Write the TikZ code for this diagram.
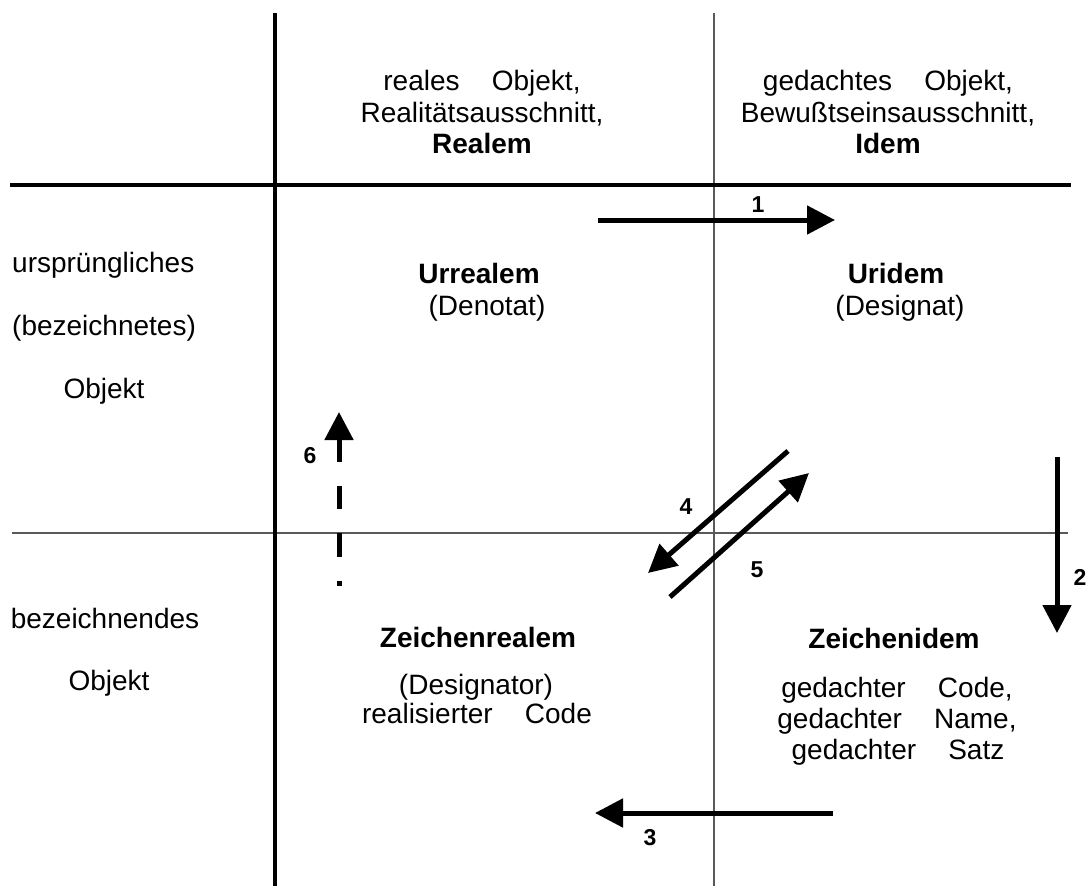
\documentclass[tikz,border=0pt]{standalone}
\usepackage{fontspec}
\setmainfont{Liberation Sans}
\usetikzlibrary{arrows.meta}
\newcommand\wgap{\hspace{1.15em}}
\begin{document}
\begin{tikzpicture}[x=1pt,y=-1pt,
  txt/.style={font=\fontsize{28}{31}\selectfont, inner sep=0pt, anchor=base},
  ttl/.style={txt, font=\fontsize{28}{31}\selectfont\bfseries},
  num/.style={font=\fontsize{23}{26}\selectfont\bfseries, inner sep=0pt},
  thickrule/.style={line width=4.5pt},
  thinrule/.style={line width=1.1pt, black!65},
  arr/.style={line width=5pt, -{Triangle[length=28pt,width=28pt]}},
]
\useasboundingbox (0,0) rectangle (1089,886);

% grid of the table
\coordinate (vT) at (275,13);   \coordinate (vB) at (275,886);
\coordinate (wT) at (714,13);   \coordinate (wB) at (714,886);
\coordinate (hL) at (10,185);   \coordinate (hR) at (1071,185);
\coordinate (gL) at (12,533);   \coordinate (gR) at (1068,533);
\draw[thinrule] (wT) -- (wB);
\draw[thinrule] (gL) -- (gR);
\draw[thickrule] (vT) -- (vB);
\draw[thickrule] (hL) -- (hR);

% column heads
\node[txt] (h1a) at (482,90)  {reales\wgap Objekt,};
\node[txt] (h1b) at (482,122) {Realitätsausschnitt,};
\node[ttl] (h1c) at (482,153) {Realem};
\node[txt] (h2a) at (888,90)  {gedachtes\wgap Objekt,};
\node[txt] (h2b) at (888,122) {Bewußtseinsausschnitt,};
\node[ttl] (h2c) at (888,153) {Idem};

% row heads
\node[txt, anchor=base west] (r1a) at (12,272) {ursprüngliches};
\node[txt, anchor=base west] (r1b) at (12,335) {(bezeichnetes)};
\node[txt] (r1c) at (104,398) {Objekt};
\node[txt] (r2a) at (105,628) {bezeichnendes};
\node[txt] (r2b) at (109,690) {Objekt};

% cells
\node[ttl] (c11a) at (479,283) {Urrealem};
\node[txt] (c11b) at (487,315) {(Denotat)};
\node[ttl] (c12a) at (896,283) {Uridem};
\node[txt] (c12b) at (900,315) {(Designat)};
\node[ttl] (c21a) at (478,647) {Zeichenrealem};
\node[txt] (c21b) at (476,694) {(Designator)};
\node[txt] (c21c) at (477,723) {realisierter\wgap Code};
\node[ttl] (c22a) at (894,648) {Zeichenidem};
\node[txt] (c22b) at (897,697) {gedachter\wgap Code,};
\node[txt] (c22c) at (897,728) {gedachter\wgap Name,};
\node[txt] (c22d) at (898,759) {gedachter\wgap Satz};

% arrows
\coordinate (a1s) at (598,220);  \coordinate (a1e) at (835,220);
\coordinate (a2s) at (1057,457); \coordinate (a2e) at (1057,633);
\coordinate (a3s) at (833,813);  \coordinate (a3e) at (595,813);
\coordinate (a4s) at (788,451);  \coordinate (a4e) at (648,573);
\coordinate (a5s) at (670,597);  \coordinate (a5e) at (809,473);
\coordinate (a6s) at (339,586);  \coordinate (a6e) at (339,412);
\draw[arr] (a1s) -- (a1e);
\draw[arr] (a2s) -- (a2e);
\draw[arr] (a3s) -- (a3e);
\draw[arr] (a4s) -- (a4e);
\draw[arr] (a5s) -- (a5e);
\draw[arr, dash pattern=on 5pt off 24pt on 24pt off 24pt on 23pt off 24pt on 60pt] (a6s) -- (a6e);

% arrow numbers
\node[num] (n1) at (758,205) {1};
\node[num] (n2) at (1080,577) {2};
\node[num] (n3) at (650,838) {3};
\node[num] (n4) at (686,507) {4};
\node[num] (n5) at (757,570) {5};
\node[num] (n6) at (310,456) {6};
\end{tikzpicture}
\end{document}
